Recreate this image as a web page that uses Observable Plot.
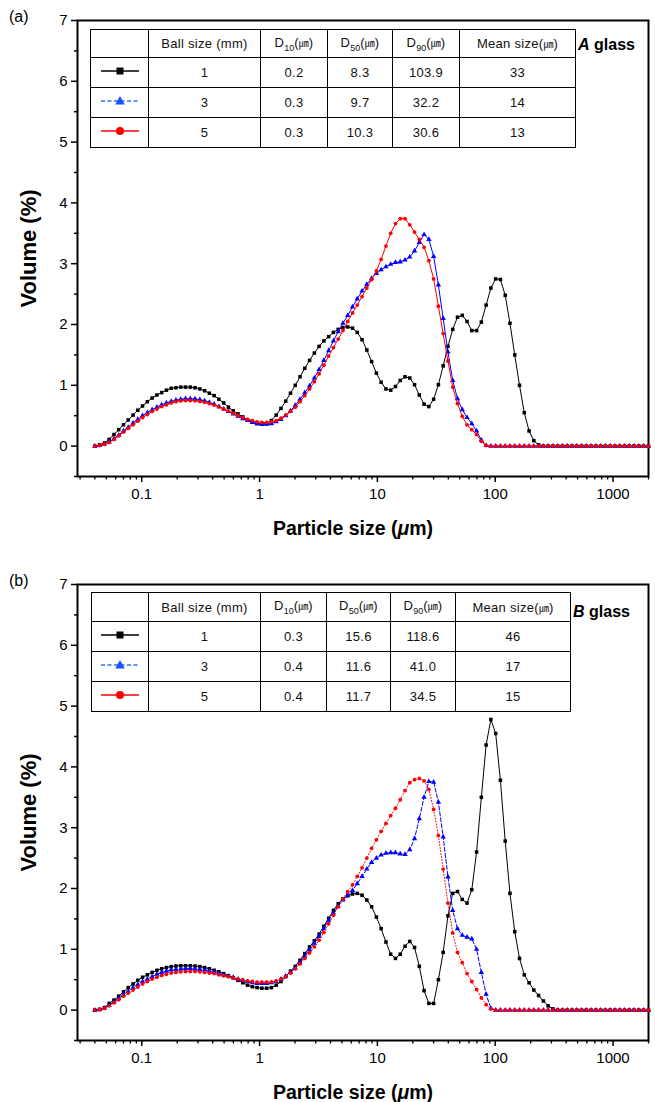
<!DOCTYPE html>
<html><head><meta charset="utf-8">
<script src="https://cdn.jsdelivr.net/npm/d3@7"></script>
<script src="https://cdn.jsdelivr.net/npm/@observablehq/plot@0.6"></script>
<style>
body{margin:0;background:#fff;font-family:"Liberation Sans",Arial,sans-serif;color:#000;}
#wrap{position:relative;width:655px;height:1102px;overflow:hidden;}
.panel{position:absolute;left:0;width:655px;height:551px;}
.plab{position:absolute;font-size:16px;}
table.t{position:absolute;border-collapse:collapse;table-layout:fixed;font-size:13px;letter-spacing:0.3px;color:#111;background:#fff;}
table.t td{border:1px solid #000;text-align:center;padding:0;white-space:nowrap;overflow:hidden;}
table.t sub{font-size:9px;letter-spacing:0;}
.u{font-family:"Noto Sans CJK KR",sans-serif;font-size:10px;letter-spacing:0;}
.gl{position:absolute;font-weight:bold;font-size:16px;}
</style></head>
<body><div id="wrap"></div>
<script>
const sizes = [0.0400,0.0439,0.0482,0.0529,0.0581,0.0638,0.0700,0.0768,0.0844,0.0926,
0.1016,0.1116,0.1225,0.1345,0.1476,0.1620,0.1779,0.1952,0.2143,0.2353,
0.2583,0.2835,0.3112,0.3416,0.3750,0.4117,0.4519,0.4961,0.5446,0.5978,
0.6562,0.7204,0.7908,0.8680,0.9529,1.046,1.148,1.260,1.384,1.519,
1.667,1.830,2.009,2.205,2.421,2.658,2.917,3.202,3.515,3.859,
4.236,4.650,5.104,5.603,6.151,6.752,7.412,8.137,8.932,9.805,
10.76,11.82,12.97,14.24,15.63,17.16,18.83,20.67,22.69,24.91,
27.35,30.02,32.95,36.17,39.71,43.59,47.85,52.52,57.66,63.29,
69.48,76.27,83.72,91.90,100.9,110.7,121.6,133.4,146.5,160.8,
176.5,193.8,212.7,233.5,256.3,281.4,308.9,339.1,372.2,408.6,
448.5,492.3,540.4,593.2,651.2,714.9,784.7,861.4,945.6,1038,
1139,1251,1373,1507,1655,1816,2000];

// Panel (a): A glass
const aBlack = [0,0.02,0.05,0.11,0.19,0.27,0.35,0.43,0.51,0.59,
0.66,0.73,0.79,0.84,0.88,0.92,0.95,0.96,0.97,0.97,
0.97,0.96,0.94,0.91,0.87,0.83,0.77,0.71,0.64,0.58,
0.53,0.48,0.43,0.40,0.37,0.36,0.37,0.42,0.51,0.62,
0.74,0.87,1.00,1.14,1.28,1.41,1.53,1.64,1.73,1.80,
1.87,1.92,1.95,1.96,1.94,1.87,1.75,1.58,1.39,1.20,
1.05,0.94,0.92,0.98,1.08,1.14,1.12,1.01,0.84,0.69,
0.65,0.77,1.01,1.32,1.64,1.92,2.12,2.15,2.05,1.90,
1.90,2.04,2.32,2.60,2.75,2.74,2.48,2.02,1.50,1.00,
0.55,0.25,0.09,0.02,0,0,0,0,0,0,
0,0,0,0,0,0,0,0,0,0,
0,0,0,0,0,0,0];
const aBlue = [0,0.01,0.03,0.07,0.12,0.18,0.25,0.31,0.38,0.44,
0.50,0.55,0.60,0.64,0.68,0.71,0.735,0.755,0.77,0.78,
0.78,0.775,0.765,0.745,0.72,0.69,0.65,0.61,0.57,0.53,
0.49,0.45,0.42,0.39,0.37,0.36,0.36,0.37,0.40,0.44,
0.50,0.58,0.67,0.77,0.88,0.99,1.12,1.26,1.41,1.57,
1.73,1.88,2.02,2.15,2.29,2.42,2.55,2.66,2.76,2.84,
2.90,2.95,2.99,3.02,3.03,3.06,3.11,3.21,3.35,3.48,
3.40,3.12,2.65,2.10,1.55,1.08,0.78,0.60,0.47,0.37,
0.25,0.10,0.01,0,0,0,0,0,0,0,
0,0,0,0,0,0,0,0,0,0,
0,0,0,0,0,0,0,0,0,0,
0,0,0,0,0,0,0];
const aRed = [0,0.01,0.03,0.06,0.11,0.17,0.23,0.29,0.35,0.41,
0.47,0.52,0.57,0.61,0.65,0.68,0.71,0.73,0.745,0.75,
0.75,0.745,0.735,0.72,0.70,0.675,0.645,0.61,0.575,0.54,
0.505,0.47,0.44,0.42,0.40,0.39,0.39,0.40,0.42,0.46,
0.51,0.57,0.64,0.73,0.83,0.94,1.06,1.19,1.33,1.48,
1.62,1.76,1.90,2.05,2.19,2.32,2.46,2.60,2.74,2.88,
3.07,3.29,3.50,3.66,3.74,3.74,3.64,3.52,3.40,3.27,
3.05,2.75,2.30,1.85,1.40,0.97,0.70,0.49,0.35,0.27,
0.19,0.08,0.01,0,0,0,0,0,0,0,
0,0,0,0,0,0,0,0,0,0,
0,0,0,0,0,0,0,0,0,0,
0,0,0,0,0,0,0];

// Panel (b): B glass
const bBlack = [0,0.01,0.04,0.11,0.165,0.23,0.30,0.37,0.43,0.49,
0.54,0.58,0.62,0.655,0.68,0.70,0.715,0.725,0.73,0.73,
0.73,0.725,0.715,0.70,0.68,0.655,0.63,0.60,0.565,0.53,
0.49,0.45,0.41,0.385,0.37,0.36,0.36,0.37,0.41,0.47,
0.55,0.64,0.72,0.82,0.93,1.04,1.14,1.25,1.38,1.51,
1.64,1.75,1.83,1.88,1.91,1.92,1.89,1.81,1.70,1.53,
1.34,1.12,0.92,0.85,0.92,1.05,1.13,1.03,0.72,0.32,
0.11,0.11,0.50,0.95,1.55,1.92,1.95,1.82,1.76,1.98,
2.60,3.50,4.36,4.78,4.55,3.78,2.78,1.92,1.29,0.85,
0.58,0.45,0.33,0.24,0.15,0.07,0.02,0,0,0,
0,0,0,0,0,0,0,0,0,0,
0,0,0,0,0,0,0];
const bBlue = [0,0.01,0.03,0.08,0.13,0.19,0.25,0.31,0.37,0.42,
0.47,0.51,0.55,0.59,0.62,0.64,0.66,0.67,0.675,0.68,
0.68,0.675,0.67,0.66,0.64,0.62,0.60,0.58,0.56,0.54,
0.51,0.49,0.47,0.45,0.44,0.44,0.44,0.45,0.47,0.51,
0.56,0.62,0.69,0.78,0.89,0.99,1.10,1.21,1.34,1.48,
1.60,1.71,1.81,1.89,1.97,2.08,2.20,2.32,2.43,2.50,
2.55,2.58,2.59,2.59,2.57,2.56,2.64,2.82,3.15,3.50,
3.76,3.75,3.42,2.85,2.19,1.64,1.34,1.23,1.20,1.17,
1.00,0.62,0.26,0.03,0,0,0,0,0,0,
0,0,0,0,0,0,0,0,0,0,
0,0,0,0,0,0,0,0,0,0,
0,0,0,0,0,0,0];
const bRed = [0,0.01,0.03,0.07,0.12,0.17,0.23,0.28,0.33,0.38,
0.43,0.47,0.51,0.54,0.57,0.59,0.61,0.62,0.63,0.635,
0.635,0.635,0.63,0.62,0.61,0.60,0.58,0.565,0.55,0.53,
0.51,0.495,0.48,0.47,0.46,0.46,0.46,0.465,0.48,0.51,
0.55,0.61,0.68,0.76,0.85,0.94,1.04,1.15,1.28,1.42,
1.56,1.70,1.83,1.95,2.06,2.20,2.34,2.50,2.66,2.80,
2.94,3.07,3.20,3.32,3.46,3.61,3.74,3.79,3.81,3.77,
3.63,3.30,2.87,2.32,1.76,1.27,0.95,0.78,0.60,0.47,
0.34,0.20,0.09,0.02,0,0,0,0,0,0,
0,0,0,0,0,0,0,0,0,0,
0,0,0,0,0,0,0,0,0,0,
0,0,0,0,0,0,0];

const yTicks = [0,1,2,3,4,5,6,7];
const yMinor = [-0.5,0.5,1.5,2.5,3.5,4.5,5.5,6.5];
const xMajor = [0.1,1,10,100,1000];
const xMinor = [0.03,0.04,0.05,0.06,0.07,0.08,0.09,0.2,0.3,0.4,0.5,0.6,0.7,0.8,0.9,
2,3,4,5,6,7,8,9,20,30,40,50,60,70,80,90,200,300,400,500,600,700,800,900,2000];

const ballSizes = ["1","3","5"];
const aD10 = ["0.2","0.3","0.3"], aD50 = ["8.3","9.7","10.3"], aD90 = ["103.9","32.2","30.6"], aMean = ["33","14","13"];
const bD10 = ["0.3","0.4","0.4"], bD50 = ["15.6","11.6","11.7"], bD90 = ["118.6","41.0","34.5"], bMean = ["46","17","15"];

const FONT = "'Liberation Sans', Arial, sans-serif";
const PLOT_H = 456;

function makePanel(black, blue, red, top, blueDash, redDash) {
  const bottom = 551 - top - PLOT_H;
  return Plot.plot({
    width: 655, height: 551,
    marginLeft: 77, marginRight: 7, marginTop: top, marginBottom: bottom,
    x: {type: "log", domain: [0.0285, 2000]},
    y: {domain: [-0.5, 7]},
    style: {fontFamily: FONT, fontSize: "15px", color: "#000", background: "transparent", overflow: "visible"},
    marks: [
      Plot.axisY({ticks: yTicks, tickSize: 6, tickPadding: 4, tickFormat: d => String(d), label: null, strokeWidth: 1.5, fontSize: 15}),
      Plot.axisY({ticks: yMinor, tickSize: 3, tickFormat: () => "", label: null, strokeWidth: 1.5}),
      Plot.axisX({ticks: xMajor, tickSize: 6, tickPadding: 6, tickFormat: d => String(d), label: null, strokeWidth: 1.5, fontSize: 15}),
      Plot.axisX({ticks: xMinor, tickSize: 3.5, tickFormat: () => "", label: null, strokeWidth: 1.3}),
      Plot.frame({stroke: "#000", strokeWidth: 2}),
      Plot.line(black, {x: sizes, y: black, stroke: "#000", strokeWidth: 1}),
      Plot.dot(black, {x: sizes, y: black, symbol: "square", r: 2.0, fill: "#000", stroke: "none"}),
      Plot.line(blue, {x: sizes, y: blue, stroke: "#0000ff", strokeWidth: 1, strokeDasharray: blueDash}),
      Plot.dot(blue, {x: sizes, y: blue, symbol: "triangle", r: 2.0, fill: "#0000ff", stroke: "none"}),
      Plot.line(red, {x: sizes, y: red, stroke: "#ff0000", strokeWidth: 1, strokeDasharray: redDash}),
      Plot.dot(red, {x: sizes, y: red, symbol: "circle", r: 1.9, fill: "#ff0000", stroke: "none"}),
      Plot.text(["Volume (%)"], {frameAnchor: "left", dx: -49, rotate: -90, textAnchor: "middle", lineAnchor: "middle", fontSize: 22, fontWeight: "bold"}),
      Plot.text(["Particle size (μm)"], {frameAnchor: "bottom", dy: 52, dx: -10, textAnchor: "middle", lineAnchor: "middle", fontSize: 19.5, fontWeight: "bold"})
    ]
  });
}

function legendSvg(k) {
  if (k === 0) return '<svg width="56" height="26"><line x1="9" x2="47" y1="13" y2="13" stroke="#000" stroke-width="1.5"/><rect x="24.5" y="9.5" width="7" height="7" fill="#000"/></svg>';
  if (k === 1) return '<svg width="56" height="26"><line x1="9" x2="47" y1="13" y2="13" stroke="#2f6fff" stroke-width="1.5" stroke-dasharray="4,2.5"/><polygon points="28,8 32.8,16.5 23.2,16.5" fill="#1455ff"/></svg>';
  return '<svg width="56" height="26"><line x1="9" x2="47" y1="13" y2="13" stroke="#ff0000" stroke-width="1.5"/><circle cx="28" cy="13" r="4" fill="#ff0000"/></svg>';
}

function makeTable(left, top, widths, rowH, d10, d50, d90, mean) {
  const u = '(<span class="u">㎛</span>)';
  let h = `<table class="t" style="left:${left}px;top:${top}px;width:${widths.reduce((a,b)=>a+b,0)}px"><colgroup>`;
  widths.forEach(w => h += `<col style="width:${w}px">`);
  h += `</colgroup><tr style="height:${rowH}px"><td></td><td>Ball size (mm)</td><td>D<sub>10</sub>${u}</td><td>D<sub>50</sub>${u}</td><td>D<sub>90</sub>${u}</td><td>Mean size${u}</td></tr>`;
  for (let k = 0; k < 3; k++) {
    h += `<tr style="height:${rowH}px"><td>${legendSvg(k)}</td><td>${ballSizes[k]}</td><td>${d10[k]}</td><td>${d50[k]}</td><td>${d90[k]}</td><td>${mean[k]}</td></tr>`;
  }
  return h + "</table>";
}

const wrap = document.getElementById("wrap");
const pa = document.createElement("div"); pa.className = "panel"; pa.style.top = "0px";
pa.appendChild(makePanel(aBlack, aBlue, aRed, 20, null, null));
const pb = document.createElement("div"); pb.className = "panel"; pb.style.top = "551px";
pb.appendChild(makePanel(bBlack, bBlue, bRed, 33, "4,2", "1,2"));
wrap.appendChild(pa); wrap.appendChild(pb);

// italic μ in the x-axis title
d3.selectAll("#wrap svg text").each(function() {
  const t = d3.select(this);
  if (t.text() === "Particle size (μm)") {
    t.text(null);
    t.append("tspan").text("Particle size (");
    t.append("tspan").attr("font-style", "italic").text("μ");
    t.append("tspan").text("m)");
  }
});

wrap.insertAdjacentHTML("beforeend", '<div class="plab" style="left:9px;top:8px">(a)</div>');
wrap.insertAdjacentHTML("beforeend", '<div class="plab" style="left:9px;top:572px">(b)</div>');
wrap.insertAdjacentHTML("beforeend", makeTable(90, 29, [58,112,67,65,67,116], 28, aD10, aD50, aD90, aMean));
wrap.insertAdjacentHTML("beforeend", makeTable(91, 592, [57,112,66,64,65,115], 29, bD10, bD50, bD90, bMean));
wrap.insertAdjacentHTML("beforeend", '<div class="gl" style="left:578px;top:36px"><i>A</i> glass</div>');
wrap.insertAdjacentHTML("beforeend", '<div class="gl" style="left:573px;top:603px"><i>B</i> glass</div>');
</script></body></html>
